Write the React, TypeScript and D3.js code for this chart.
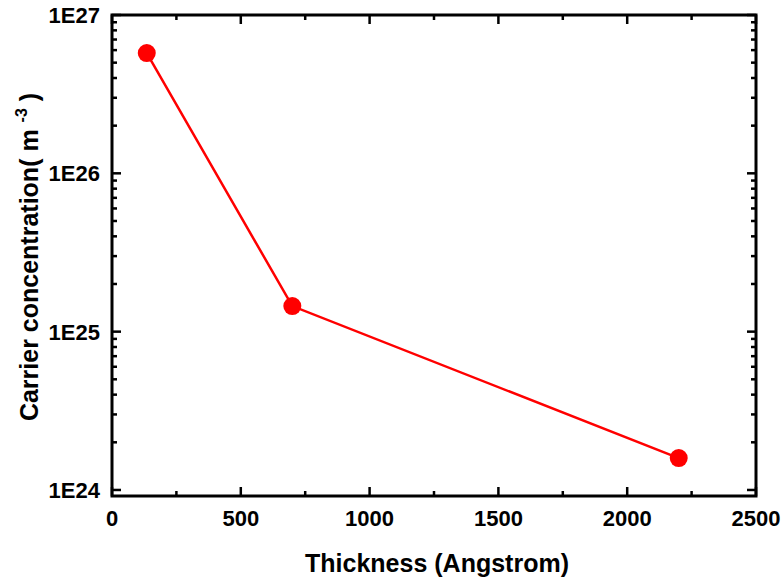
import React from "react";
import * as d3 from "d3";

const thickness = [135, 700, 2200];
const concentration = [5.75e26, 1.45e25, 1.59e24];
const xTicks = [0, 500, 1000, 1500, 2000, 2500];
const yTicks = [1e24, 1e25, 1e26, 1e27];
const yTickLabels = ["1E24", "1E25", "1E26", "1E27"];

export default function App() {
  const W = 784, H = 578;
  const L = 112, R = 756, T = 15, B = 496;
  const x = d3.scaleLinear().domain([0, 2500]).range([L, R]);
  const y = d3.scaleLog().domain([9.16e23, 1e27]).range([B, T]);
  const minorX = d3.range(250, 2500, 500);
  const minorY: number[] = [];
  for (let e = 23; e < 27; e++) for (let m = 2; m <= 9; m++) {
    const v = m * Math.pow(10, e);
    if (v >= 9.16e23 && v < 1e27) minorY.push(v);
  }
  const line = d3.line<number>().x((_, i) => x(thickness[i])).y((_, i) => y(concentration[i]));
  const font = "Arial, 'Liberation Sans', sans-serif";
  return (
    <svg width={W} height={H} style={{ position: "absolute", left: 0, top: 0 }}>
      <rect width={W} height={H} fill="white" />
      <g stroke="black" strokeWidth={2.5}>
        {xTicks.map(t => (
          <g key={"x" + t}>
            <line x1={x(t)} x2={x(t)} y1={B} y2={B - 9} />
            <line x1={x(t)} x2={x(t)} y1={T} y2={T + 9} />
          </g>
        ))}
        {minorX.map(t => (
          <g key={"mx" + t}>
            <line x1={x(t)} x2={x(t)} y1={B} y2={B - 5} />
            <line x1={x(t)} x2={x(t)} y1={T} y2={T + 5} />
          </g>
        ))}
        {yTicks.map(t => (
          <g key={"y" + t}>
            <line x1={L} x2={L + 9} y1={y(t)} y2={y(t)} />
            <line x1={R} x2={R - 9} y1={y(t)} y2={y(t)} />
          </g>
        ))}
        {minorY.map(t => (
          <g key={"my" + t}>
            <line x1={L} x2={L + 5} y1={y(t)} y2={y(t)} />
            <line x1={R} x2={R - 5} y1={y(t)} y2={y(t)} />
          </g>
        ))}
      </g>
      <rect x={L} y={T} width={R - L} height={B - T} fill="none" stroke="black" strokeWidth={3} />
      <path d={line(thickness) || ""} fill="none" stroke="#ff0000" strokeWidth={2.5} />
      {thickness.map((t, i) => (
        <circle key={i} cx={x(t)} cy={y(concentration[i])} r={9} fill="#ff0000" />
      ))}
      <g fontFamily={font} fontWeight="bold" fontSize={22} fill="black">
        {xTicks.map(t => (
          <text key={t} x={x(t)} y={B + 30} textAnchor="middle">{t}</text>
        ))}
        {yTicks.map((t, i) => (
          <text key={t} x={L - 12} y={y(t) + 8} textAnchor="end">{yTickLabels[i]}</text>
        ))}
      </g>
      <text x={437} y={572} textAnchor="middle" fontFamily={font} fontWeight="bold" fontSize={25}>Thickness (Angstrom)</text>
      <text transform={`translate(38, 257) rotate(-90)`} textAnchor="middle" fontFamily={font} fontWeight="bold" fontSize={25}>
        Carrier concentration( m <tspan dy={-11} fontSize={16}>-3</tspan><tspan dy={11}> )</tspan>
      </text>
    </svg>
  );
}
